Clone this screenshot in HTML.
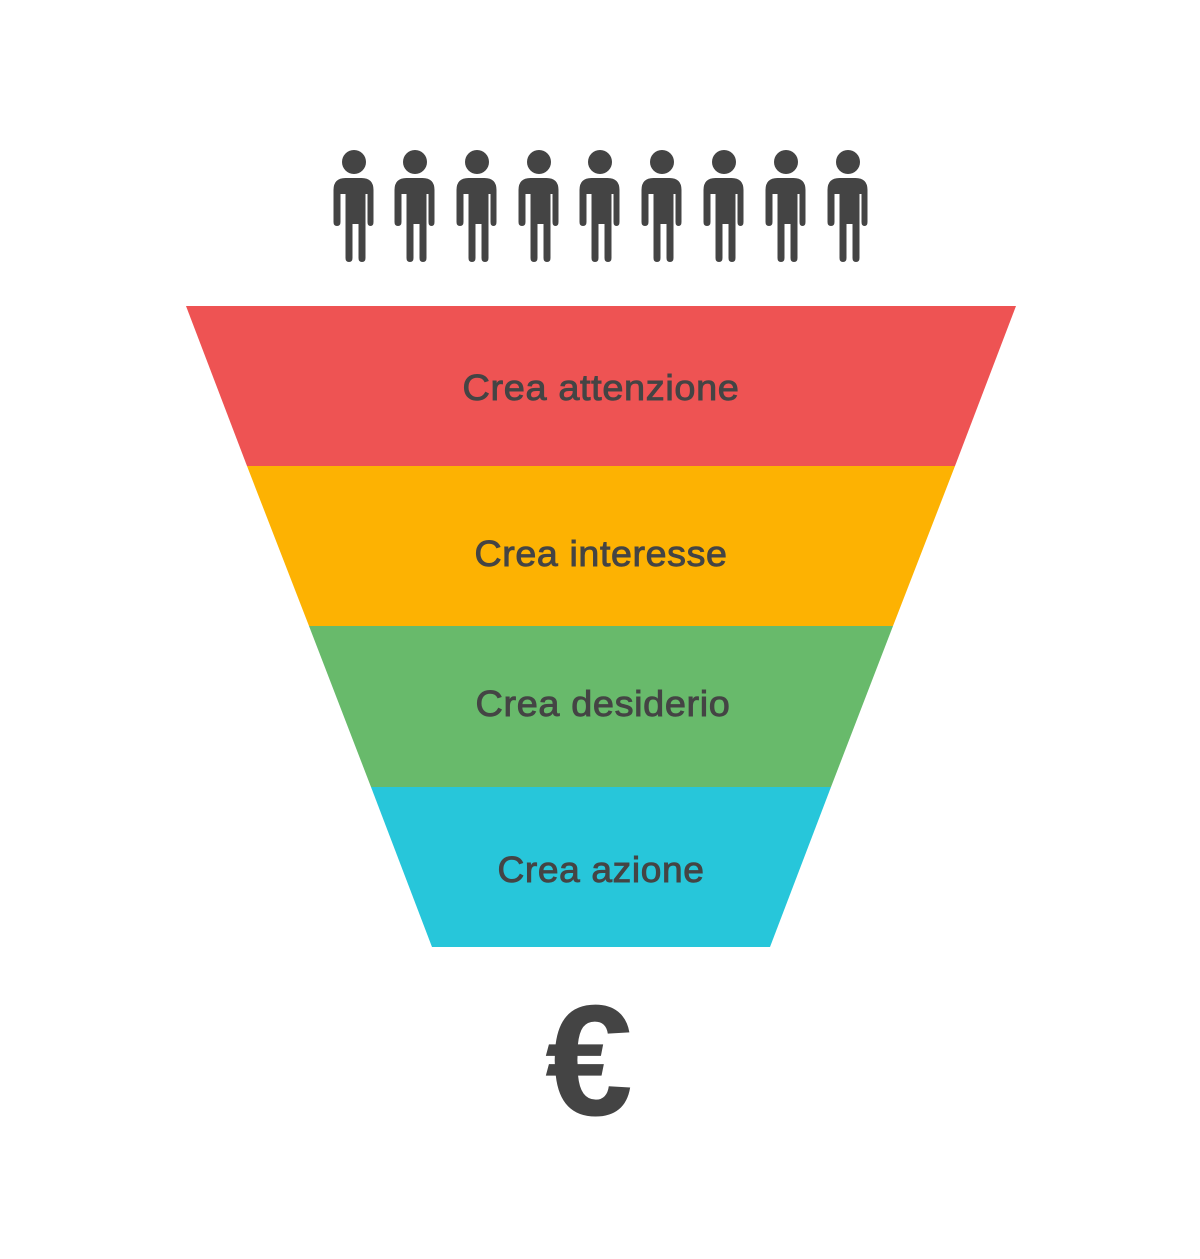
<!DOCTYPE html>
<html><head><style>
html,body{margin:0;padding:0;background:#fff;}
</style></head><body>
<svg width="1200" height="1254" viewBox="0 0 1200 1254" xmlns="http://www.w3.org/2000/svg">
<defs>
<g id="p" fill="#444">
<circle cx="0" cy="0" r="12"/>
<path d="M-20 28 Q-20 16 -8 16 L8 16 Q20 16 20 28 L20 60 Q20 64 17 64 Q14 64 14 60 L14 32 L12 32 L12 96 Q12 100 8.5 100 Q5 100 5 96 L5 62 L-1 62 L-1 96 Q-1 100 -4.5 100 Q-8 100 -8 96 L-8 32 L-13 32 L-13 60 Q-13 64 -16.5 64 Q-20 64 -20 60 Z" transform="translate(-0.5,0)"/>
</g>
</defs>
<use href="#p" x="354" y="162"/>
<use href="#p" x="415" y="162"/>
<use href="#p" x="477" y="162"/>
<use href="#p" x="539" y="162"/>
<use href="#p" x="600" y="162"/>
<use href="#p" x="662" y="162"/>
<use href="#p" x="724" y="162"/>
<use href="#p" x="786" y="162"/>
<use href="#p" x="848" y="162"/>
<polygon points="186,306 1016,306 955,466 247,466" fill="#ee5353"/>
<polygon points="247,466 955,466 893,626 309,626" fill="#fdb202"/>
<polygon points="309,626 893,626 831,787 371,787" fill="#68ba6b"/>
<polygon points="371,787 831,787 770,947 432,947" fill="#27c6da"/>
<g font-family="Liberation Sans, sans-serif" font-size="36" fill="#444" stroke="#444" stroke-width="0.9" text-anchor="middle" letter-spacing="0.6">
<text x="601" y="400" textLength="277" lengthAdjust="spacingAndGlyphs">Crea attenzione</text>
<text x="601" y="566" textLength="253" lengthAdjust="spacingAndGlyphs">Crea interesse</text>
<text x="603" y="716" textLength="255" lengthAdjust="spacingAndGlyphs">Crea desiderio</text>
<text x="601" y="882" textLength="207" lengthAdjust="spacingAndGlyphs">Crea azione</text>
</g>
<text x="589" y="1115" font-family="Liberation Sans, sans-serif" font-weight="bold" font-size="158" fill="#444" text-anchor="middle">€</text>
</svg>
</body></html>
